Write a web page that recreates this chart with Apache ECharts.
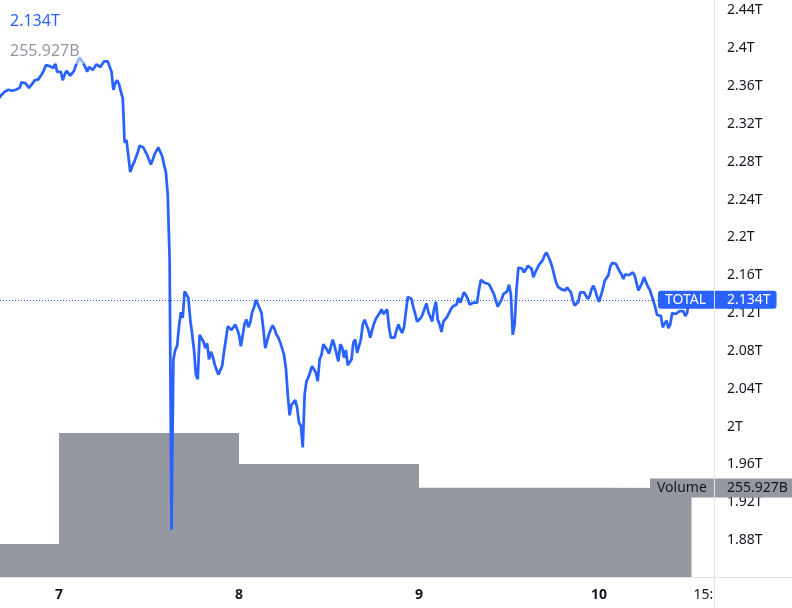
<!DOCTYPE html>
<html><head><meta charset="utf-8">
<script src="https://cdn.jsdelivr.net/npm/echarts@6/dist/echarts.min.js"></script>
<style>html,body{margin:0;padding:0;background:#fff}#c{width:792px;height:608px}</style>
</head><body><div id="c"></div>
<script>
// Hours are counted from Sep 7 00:00; one sample every 15 minutes.
const startHour = -8;
const stepHours = 0.25;
// TOTAL crypto market cap, trillions USD
const totalCap = [
2.347,2.350,2.351,2.354,2.355,2.356,2.356,2.355,2.355,2.356,
2.357,2.358,2.364,2.366,2.363,2.361,2.358,2.360,2.363,2.366,
2.367,2.367,2.370,2.373,2.377,2.382,2.384,2.381,2.379,2.379,
2.384,2.375,2.377,2.375,2.366,2.372,2.376,2.375,2.371,2.373,
2.376,2.382,2.386,2.390,2.389,2.384,2.380,2.375,2.380,2.381,
2.377,2.379,2.383,2.381,2.380,2.383,2.386,2.388,2.386,2.385,
2.375,2.356,2.363,2.366,2.362,2.354,2.347,2.300,2.303,2.302,
2.269,2.275,2.279,2.278,2.290,2.297,2.295,2.295,2.295,2.287,
2.285,2.277,2.282,2.288,2.288,2.295,2.295,2.286,2.277,2.269,
2.245,2.176,1.891,2.071,2.081,2.085,2.106,2.121,2.115,2.143,
2.145,2.136,2.113,2.098,2.081,2.055,2.050,2.097,2.097,2.090,
2.083,2.088,2.071,2.079,2.074,2.066,2.060,2.055,2.053,2.064,
2.079,2.092,2.106,2.105,2.102,2.103,2.108,2.103,2.097,2.085,
2.087,2.109,2.113,2.105,2.110,2.121,2.126,2.134,2.134,2.125,
2.120,2.103,2.083,2.084,2.098,2.103,2.107,2.103,2.097,2.094,
2.089,2.087,2.076,2.062,2.034,2.012,2.023,2.022,2.028,2.020,
2.004,2.001,1.978,2.034,2.048,2.052,2.058,2.064,2.063,2.057,
2.048,2.071,2.076,2.087,2.085,2.081,2.077,2.079,2.092,2.085,
2.085,2.069,2.087,2.084,2.073,2.081,2.065,2.064,2.071,2.089,
2.092,2.078,2.085,2.092,2.108,2.113,2.111,2.102,2.094,2.102,
2.109,2.114,2.116,2.120,2.124,2.119,2.121,2.124,2.105,2.094,
2.094,2.094,2.102,2.108,2.103,2.099,2.105,2.121,2.137,2.136,
2.135,2.126,2.119,2.111,2.111,2.115,2.119,2.125,2.130,2.121,
2.116,2.111,2.124,2.132,2.113,2.108,2.100,2.111,2.113,2.116,
2.118,2.124,2.127,2.126,2.129,2.136,2.131,2.132,2.142,2.139,
2.135,2.129,2.130,2.131,2.133,2.131,2.145,2.155,2.156,2.152,
2.150,2.151,2.148,2.147,2.140,2.133,2.127,2.129,2.134,2.140,
2.140,2.143,2.150,2.140,2.097,2.108,2.145,2.168,2.170,2.167,
2.163,2.166,2.170,2.170,2.167,2.158,2.163,2.165,2.171,2.173,
2.176,2.181,2.184,2.183,2.175,2.169,2.161,2.153,2.148,2.147,
2.145,2.146,2.144,2.147,2.145,2.142,2.134,2.128,2.128,2.132,
2.142,2.143,2.142,2.141,2.135,2.138,2.145,2.149,2.144,2.137,
2.132,2.134,2.145,2.154,2.157,2.160,2.169,2.173,2.172,2.172,
2.168,2.164,2.161,2.156,2.161,2.163,2.160,2.162,2.163,2.160,
2.152,2.144,2.148,2.152,2.158,2.156,2.148,2.145,2.143,2.133,
2.126,2.118,2.117,2.117,2.105,2.109,2.112,2.104,2.108,2.120,
2.120,2.119,2.121,2.122,2.121,2.122,2.117,2.120,
2.134
];
// Daily volume bars (billions USD)
const volumeStartHours = [-24, 0, 24, 48, 72];
const volumeValues = [96.7, 412.3, 324.2, 256.3, 255.927];
const volumeEndHour = 84.33;
// Time axis ticks
const xTickHours = [0, 24, 48, 72, 87];
const xTickLabels = ['7', '8', '9', '10', '15:00'];
const symbolName = 'TOTAL';

const FONT = 'Noto Sans';
const lineData = totalCap.map((v, i) => [startHour + i * stepHours, v]);
const volData = volumeStartHours.map((h, i) => [h, volumeValues[i]])
  .concat([[volumeEndHour, volumeValues[volumeValues.length - 1]]]);
const lastPrice = totalCap[totalCap.length - 1];
const lastVol = volumeValues[volumeValues.length - 1];
const priceText = lastPrice.toFixed(3) + 'T';
const volText = lastVol.toFixed(3) + 'B';

const chart = echarts.init(document.getElementById('c'), null, {renderer: 'canvas'});
chart.setOption({
  animation: false,
  backgroundColor: '#ffffff',
  grid: {left: 0, right: 77, top: 0, bottom: 30, containLabel: false},
  xAxis: {
    type: 'value', min: -7.867, max: 87.467,
    splitLine: {show: false}, axisLine: {show: false}, axisTick: {show: false},
    axisLabel: {
      customValues: xTickHours,
      margin: 10,
      formatter: function (v) {
        const i = xTickHours.indexOf(v);
        const t = i >= 0 ? xTickLabels[i] : '';
        return i >= 0 && i < 4 ? '{b|' + t + '}' : '{n|' + t + '}';
      },
      rich: {
        b: {fontWeight: 'bold', fontSize: 14, color: '#131722', fontFamily: FONT},
        n: {fontSize: 14, color: '#131722', fontFamily: FONT}
      }
    }
  },
  yAxis: [{
    type: 'value', position: 'right', min: 1.84, max: 2.4509, interval: 0.04,
    splitLine: {show: false}, axisLine: {show: false}, axisTick: {show: false},
    axisLabel: {
      showMinLabel: false, showMaxLabel: false, margin: 12,
      fontSize: 14, color: '#131722', fontFamily: FONT,
      formatter: v => parseFloat(v.toFixed(2)) + 'T'
    }
  }, {
    type: 'value', min: 0, max: 1643.6, show: false
  }],
  series: [{
    name: 'Volume', type: 'line', yAxisIndex: 1, step: 'end', data: volData,
    symbol: 'none', lineStyle: {width: 0}, clip: true,
    areaStyle: {color: '#9598a1', opacity: 1}, z: 1,
    markLine: {
      silent: true, symbol: ['none', 'none'], animation: false,
      lineStyle: {width: 1, color: 'rgba(0,0,0,0)', type: 'solid'},
      data: [[{coord: [-7.867, lastVol]}, {coord: [78.8, lastVol]}]],
      label: {
        show: true, position: 'end', distance: 0,
        formatter: '{a|Volume}{b|' + volText + '}',
        backgroundColor: '#9598a1', padding: [3, 5, 2, 7],
        rich: {
          a: {width: 70, fontSize: 14, color: '#131722', fontFamily: FONT},
          b: {fontSize: 14, color: '#131722', fontFamily: FONT}
        }
      }
    }
  }, {
    name: symbolName, type: 'line', data: lineData, symbol: 'none',
    lineStyle: {color: '#2962ff', width: 2.75}, itemStyle: {color: '#2962ff'}, z: 3,
    markLine: {
      silent: true, symbol: ['none', 'none'], animation: false,
      lineStyle: {type: [1, 2], color: '#2962ff', width: 1},
      data: [[{coord: [-7.867, lastPrice]}, {coord: [79.87, lastPrice]}]],
      label: {
        show: true, position: 'end', distance: 0,
        formatter: '{a|' + symbolName + '}{b|' + priceText + '}',
        backgroundColor: '#2962ff', borderRadius: 3, padding: [2, 6, 2, 7],
        rich: {
          a: {width: 62, fontSize: 14, color: '#ffffff', fontFamily: FONT},
          b: {fontSize: 14, color: '#ffffff', fontFamily: FONT}
        }
      }
    }
  }],
  graphic: [
    {type: 'rect', z: 100, shape: {x: 4, y: 36, width: 80, height: 28}, style: {fill: 'rgba(255,255,255,0.5)'}},
    {type: 'text', z: 101, style: {text: priceText, x: 10, y: 21, fill: '#2962ff', fontSize: 16, fontFamily: FONT, verticalAlign: 'middle'}},
    {type: 'text', z: 101, style: {text: volText, x: 10, y: 51, fill: '#9598a1', fontSize: 16, fontFamily: FONT, verticalAlign: 'middle'}},
    {type: 'rect', z: 100, shape: {x: 715, y: 578.5, width: 77, height: 30}, style: {fill: '#ffffff'}},
    {type: 'line', z: 101, shape: {x1: 714.5, y1: 0, x2: 714.5, y2: 608}, style: {stroke: '#e0e3eb', lineWidth: 1}},
    {type: 'line', z: 101, shape: {x1: 0, y1: 577.5, x2: 792, y2: 577.5}, style: {stroke: '#e0e3eb', lineWidth: 1}}
  ]
});
</script>
</body></html>
